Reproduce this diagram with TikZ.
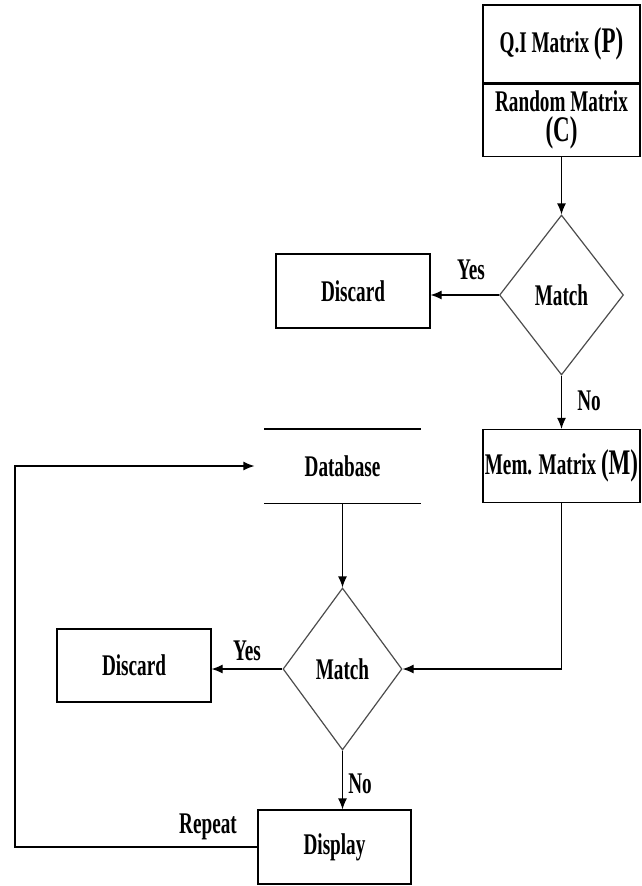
\documentclass[tikz,border=0pt]{standalone}
\usepackage{fontspec}
\setmainfont[FakeStretch=0.64]{Liberation Serif}
\usetikzlibrary{shapes.geometric,arrows.meta}
\newcommand{\biglet}[1]{{\fontsize{36}{36}\selectfont #1}}

\begin{document}
\begin{tikzpicture}[x=1pt,y=-1pt,>={Latex[length=11pt,width=9pt]},line width=1.2pt,
  font=\bfseries\fontsize{30}{24}\selectfont,
  box/.style={draw,rectangle,align=center,inner sep=0pt},
  decision/.style={draw=black!70,diamond,aspect=0.76,inner sep=0pt},
  lbl/.style={inner sep=0pt}]
\useasboundingbox (0,0) rectangle (642,886);
\node[box,minimum width=157,minimum height=78] (qi) at (561.5,44) {Q.I Matrix \biglet{(P)}};
\node[box,minimum width=157,minimum height=72,anchor=north] (rand) at (qi.south) {Random Matrix\\[4pt]\biglet{(C)}};
\node[decision,minimum width=124,minimum height=160] (d1) at (561.5,295) {Match};
\node[box,minimum width=154,minimum height=74] (dis1) at (353,291) {Discard};
\node[box,minimum width=157,minimum height=73] (mem) at (561.5,466) {Mem. Matrix \biglet{(M)}};
\node[minimum width=155,minimum height=73,inner sep=0pt] (db) at (342.5,466) {Database};
\draw (db.north west) -- (db.north east);
\draw (db.south west) -- (db.south east);
\node[decision,minimum width=119,minimum height=162] (d2) at (342.5,669) {Match};
\node[box,minimum width=154,minimum height=73] (dis2) at (134,665.5) {Discard};
\node[box,minimum width=153,minimum height=74] (disp) at (334.5,847) {Display};
\coordinate (loop) at (15,466);
\draw[->] (rand.south) -- (d1.north);
\draw[->] (d1.west) -- (d1.west -| dis1.east);
\node[lbl] (yes1) at (471,270) {Yes};
\draw[->] (d1.south) -- (mem.north);
\node[lbl] (no1) at (589,401) {No};
\draw[->] (db.south) -- (d2.north);
\draw[->] (mem.south) |- (d2.east);
\draw[->] (d2.west) -- (d2.west -| dis2.east);
\node[lbl] (yes2) at (247,651) {Yes};
\draw[->] (d2.south) -- (d2.south |- disp.north);
\node[lbl] (no2) at (360,784) {No};
\draw[->,shorten >=10pt] (disp.west) -| (loop) -- (db.west);
\node[lbl] (rep) at (208,827) {Repeat};
\end{tikzpicture}
\end{document}
